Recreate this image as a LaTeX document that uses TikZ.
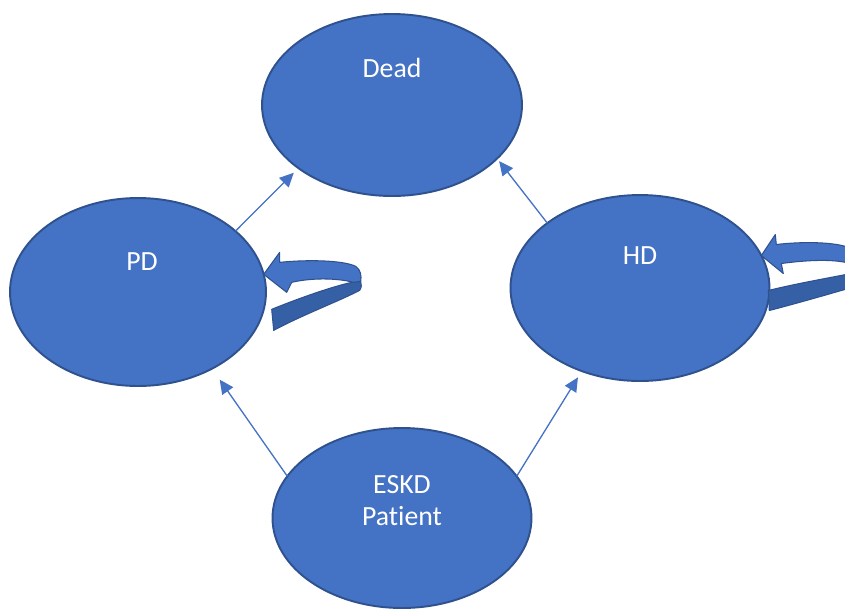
\documentclass[tikz,border=0pt]{standalone}
\usepackage{fontspec}
\setmainfont{Carlito}[Ligatures=NoCommon]
\usetikzlibrary{arrows.meta,calc,shapes.geometric}

\definecolor{stateblue}{HTML}{4472C4}
\definecolor{stateedge}{HTML}{2F528F}
\definecolor{loopshade}{HTML}{3560A6}

\tikzset{
	state/.style={ellipse, fill=stateblue, draw=stateedge, line width=1.1pt, inner sep=0pt, outer sep=0pt},
	statetext/.style={text=white, font=\fontsize{15.8}{18.1}\selectfont, anchor=base, align=center, inner sep=0pt},
	link/.style={draw=stateblue, line width=0.75pt, -{Triangle[length=8pt,width=7.5pt]}},
	loopface/.style={fill=stateblue, draw=stateedge, line width=0.6pt, line join=round},
	loopback/.style={fill=loopshade, draw=stateedge, line width=0.6pt, line join=round}
}

\begin{document}
\begin{tikzpicture}[x=0.02cm, y=-0.02cm]
		\useasboundingbox (0,0) rectangle (845,609);
		\clip (0,0) rectangle (845,609);
		% states
		\node[state, minimum width=5.2cm, minimum height=3.64cm] (dead) at (392,105) {};
		\node[state, minimum width=5.12cm, minimum height=3.76cm] (pd) at (138,292) {};
		\node[state, minimum width=5.18cm, minimum height=3.72cm] (hd) at (640,288) {};
		\node[state, minimum width=5.18cm, minimum height=3.6cm] (eskd) at (402,518) {};
		\node[statetext] (deadlabel) at ($(dead)+(0,-28)$) {Dead};
		\node[statetext] (pdlabel) at ($(pd)+(4,-22)$) {PD};
		\node[statetext] (hdlabel) at ($(hd)+(0,-24)$) {HD};
		\node[statetext] (eskdlabel) at ($(eskd)+(0,7)$) {ESKD\\Patient};
		% transitions
		\draw[link, shorten >=3.7pt] (pd.32) -- (dead.214);
		\draw[link, shorten >=1.9pt] (hd.145) -- (dead.333);
		\draw[link, shorten >=7.6pt] (eskd.160) -- (pd.314);
		\draw[link, shorten >=4.2pt] (eskd.20) -- (hd.235);
		% stay in PD
		\begin{scope}[shift={(pd.8)}]
			\filldraw[loopback] (8,35) .. controls (40,22) and (70,12) .. (88,8) -- (97,7) .. controls (98,10) and (98,13) .. (96,16) .. controls (75,27) and (40,40) .. (10,56) -- cycle;
			\filldraw[loopface] (0,0) -- (16,-22) -- (16,-12) .. controls (45,-15) and (80,-14) .. (92,-8) .. controls (97,-5) and (98,2) .. (97,7) -- (90,8) .. controls (70,3) and (45,4) .. (28,8) -- (23,18) -- cycle;
		\end{scope}
		% stay in HD
		\begin{scope}[shift={(hd.15)}]
			\filldraw[loopback] (7,35) .. controls (35,28) and (70,22) .. (100,16) -- (104,17) -- (104,28) .. controls (70,38) and (35,48) .. (8,55) -- cycle;
			\filldraw[loopface] (0,0) -- (14,-21) -- (15,-11) .. controls (40,-14) and (75,-14) .. (90,-7) .. controls (100,-3) and (104,3) .. (104,8) -- (100,14) .. controls (88,2) and (50,4) .. (20,8) -- (22,18) -- cycle;
		\end{scope}
\end{tikzpicture}
\end{document}
